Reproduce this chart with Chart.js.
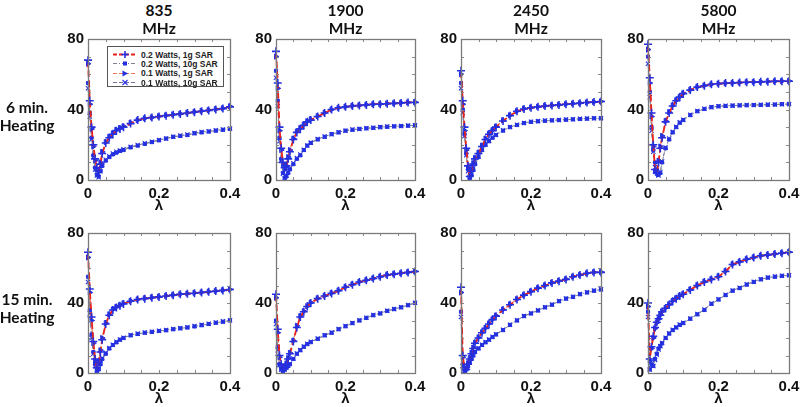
<!DOCTYPE html>
<html><head><meta charset="utf-8">
<script src="https://cdn.jsdelivr.net/npm/chart.js@4.4.0/dist/chart.umd.min.js"></script>
<style>
html,body{margin:0;padding:0;background:#fff;width:800px;height:407px;overflow:hidden;position:relative}
canvas{position:absolute}
.t{position:absolute;width:120px;text-align:center;font-family:Lato,"Open Sans",sans-serif;font-weight:bold;font-size:15.5px;line-height:18px;color:#111;white-space:nowrap}
#legend{position:absolute;left:107px;top:46px;width:117px;height:41px;border:1px solid #555;background:#fff;z-index:5;box-sizing:border-box}
#legend .row{position:absolute;left:4px;height:9px;display:flex;align-items:center;font:bold 8.5px "Liberation Sans",Arial,sans-serif;color:#222;white-space:nowrap}
#legend svg{margin-right:3px}
</style></head><body>
<script>
// ---------- DATA ----------
const lambda = [0,0.005,0.01,0.015,0.02,0.025,0.03,0.035,0.04,0.05,0.06,0.07,0.08,0.09,0.1,0.12,0.14,0.16,0.18,0.2,0.22,0.24,0.26,0.28,0.3,0.32,0.34,0.36,0.38,0.4];
const xTicks = [0,0.2,0.4];
const yTicks = [0,40,80];
const freqLabels = ["835","1900","2450","5800"];
const rowLabels = ["6 min.","15 min."];
const seriesNames = ["0.2 Watts, 1g SAR","0.2 Watts, 10g SAR","0.1 Watts, 1g SAR","0.1 Watts, 10g SAR"];

// 6 min heating
const f835_6_w02_1g  = [68,45,30,20,12,7,5,9,15,21,24,26,28,29,30,32,34,35,35.5,36,36.5,37,37.5,38,38.5,39,39.5,40,40.5,41.5];
const f835_6_w02_10g = [55,38,24,14,7,3,2,5,8,11,13,14.5,15.5,16.5,17,18.5,19.5,20.5,21.5,22.5,23.5,24.5,25,25.5,26.5,27,27.5,28,28.5,29];
const f835_6_w01_1g  = [66,43,29,19,11,6,5,10,16,21.5,24.5,26.5,28.5,29.5,30.5,32.5,34,35,35.5,36.2,36.7,37.2,37.6,38.2,38.7,39.2,39.7,40.2,40.7,41.8];
const f835_6_w01_10g = [52,36,23,13,6,2.5,1.5,5,8.5,11.5,13.5,15,16,16.8,17.5,18.8,19.8,20.8,21.7,22.7,23.6,24.5,25.2,25.8,26.6,27.2,27.7,28.2,28.7,29.2];

const f1900_6_w02_1g  = [73,55,30,18,10,7,8,12,16,23,27,29,31,33,34,36,38,40,41,41.5,42,42.3,42.6,43,43,43.3,43.5,43.7,44,44];
const f1900_6_w02_10g = [62,45,24,12,4,1,2,4,6,9,12,14,17,19.5,21,23,24.5,26,27,28,28.5,29,29.3,29.6,30,30.2,30.4,30.6,30.8,31];
const f1900_6_w01_1g  = [70,52,28,17,9,6,8,13,17,23.5,27.5,29.5,31.5,33.3,34.5,36.3,38.2,40,41,41.6,42.1,42.4,42.7,43,43.1,43.4,43.6,43.8,44,44.2];
const f1900_6_w01_10g = [58,42,22,11,3.5,1,2.5,4.5,6.5,9.5,12.5,14.5,17.2,19.6,21.2,23.2,24.7,26,27.1,28,28.6,29,29.4,29.7,30,30.3,30.5,30.7,30.9,31.1];

const f2450_6_w02_1g  = [62,45,30,18,8,2,5,9,12,15,19,23,26,28,30,33.5,36.5,39,40.3,41,41.5,42,42.3,42.6,43,43.3,43.6,44,44.2,44.5];
const f2450_6_w02_10g = [55,40,26,15,6,1,3,6,9,13,17,20,22,24,25.5,28,30,31.2,32.3,33,33.3,33.6,33.8,34,34.2,34.4,34.6,34.8,35,35];
const f2450_6_w01_1g  = [60,43,28,17,7,2,5.5,9.5,12.5,15.5,19.5,23.5,26.3,28.3,30.3,33.8,36.7,39.1,40.5,41.1,41.6,42.1,42.4,42.7,43.1,43.4,43.7,44,44.3,44.6];
const f2450_6_w01_10g = [52,38,25,14,5,1.5,3.5,6.5,9.5,13.3,17.2,20.2,22.2,24.2,25.7,28.2,30.1,31.3,32.4,33,33.4,33.7,33.9,34.1,34.3,34.5,34.7,34.9,35,35.1];

const f5800_6_w02_1g  = [77,58,38,20,6,4,10,18,24,33,38,42,45,47,49,51,52.7,53.5,54.3,54.6,55,55,55.3,55.5,55.5,55.7,55.8,56,56,56];
const f5800_6_w02_10g = [70,50,30,17,10,6,3,4,10,18,23,27,30,32.5,34,36.8,39,40.3,41.3,41.8,42,42.2,42.3,42.4,42.5,42.6,42.7,42.8,43,43];
const f5800_6_w01_1g  = [74,55,36,19,5,4,11,19,25,33.5,38.5,42.3,45.2,47.2,49.2,51.2,52.8,53.6,54.3,54.7,55,55.1,55.3,55.5,55.6,55.7,55.9,56,56.1,56.2];
const f5800_6_w01_10g = [66,47,28,16,9,5,2.5,4.5,10.5,18.5,23.5,27.3,30.2,32.7,34.2,37,39.1,40.4,41.3,41.9,42.1,42.2,42.4,42.5,42.6,42.7,42.8,42.9,43,43.1];

// 15 min heating
const f835_15_w02_1g  = [69,48,32,18,8,3,6,12,19,28,33,36,37.5,38.5,39.5,41,42,42.5,43,43.5,44,44.5,45,45.3,45.6,46,46.4,46.8,47.2,47.7];
const f835_15_w02_10g = [55,36,22,12,5,1,2,5,8,11,14,16,17.5,19,20,21.5,22.3,23,23.5,24,24.4,25,25.5,26,26.6,27.3,28,28.7,29.3,30];
const f835_15_w01_1g  = [66,46,30,17,7,3,6.5,13,20,28.5,33.5,36.3,37.8,38.8,39.8,41.2,42.1,42.7,43.2,43.6,44.1,44.6,45.1,45.4,45.8,46.1,46.5,46.9,47.3,47.8];
const f835_15_w01_10g = [52,34,20,11,4,1.5,2.5,5.5,8.5,11.5,14.3,16.2,17.8,19.2,20.2,21.7,22.5,23.1,23.6,24.1,24.6,25.1,25.6,26.2,26.8,27.5,28.2,28.8,29.5,30.1];

const f1900_15_w02_1g  = [45,25,10,5,3,3,5,8,11,18,26,32,35,38,40,42.5,44,45.5,47,49,50.5,52,53,54,55,56,56.5,57,57.5,58];
const f1900_15_w02_10g = [30,15,5,2,1,2,3,4,5,8,11,13,15,16.5,17.6,19.5,21.5,23,25,26.7,28.5,30,31.5,33,34,35.5,36.5,37.5,38.7,40];
const f1900_15_w01_1g  = [43,23,9,4.5,3,3.5,5.5,8.5,11.5,18.5,27,32.5,35.3,38.2,40.2,42.7,44.2,45.7,47.2,49.2,50.7,52.1,53.1,54.1,55.1,56.1,56.6,57.1,57.6,58.1];
const f1900_15_w01_10g = [28,13,4.5,2,1,2,3.2,4.2,5.3,8.3,11.2,13.2,15.2,16.7,17.8,19.7,21.6,23.2,25.2,26.8,28.6,30.1,31.6,33.1,34.2,35.6,36.6,37.6,38.8,40.1];

const f2450_15_w02_1g  = [49,10,3,2,5,8,11,14,17,20,23,25.5,28,30.5,32.5,36,39,42,44.5,46.5,48.5,50,51.5,52.5,53.5,55,56,57,57.5,57.5];
const f2450_15_w02_10g = [35,5,1,2,4,6,8,10,12,14,16,17.5,19,20.5,22,24.5,27.5,30,32.5,34,35.7,37.5,39,41,42.5,43.5,45,46,47,47.7];
const f2450_15_w01_1g  = [46,9,3,2.5,5.5,8.5,11.5,14.5,17.3,20.3,23.2,25.8,28.3,30.7,32.8,36.2,39.2,42.2,44.6,46.7,48.6,50.1,51.6,52.7,53.7,55.1,56.1,57,57.6,57.7];
const f2450_15_w01_10g = [32,4,1,2.3,4.3,6.2,8.3,10.2,12.2,14.2,16.2,17.7,19.2,20.7,22.2,24.7,27.6,30.2,32.6,34.2,35.8,37.6,39.1,41.1,42.6,43.6,45.1,46.1,47.1,47.8];

const f5800_15_w02_1g  = [40,8,15,21,26,29,31,33,35,37,39,41,42.5,44,45,47.5,50,52,53.5,55,58,62,63.5,65,66,67,67.5,68,68.5,69];
const f5800_15_w02_10g = [35,2,5,4,8,11,14,15.5,17,20,22.5,24.5,26,27.5,28.5,31,33.5,36,39.5,42,44.5,47,48.5,50.5,52,53.5,54.5,55,55.5,55.8];
const f5800_15_w01_1g  = [38,7,14,20,25.5,28.7,30.8,33.2,35.2,37.2,39.2,41.2,42.7,44.2,45.2,47.7,50.2,52.2,53.7,55.3,58.3,62.2,63.7,65.1,66.1,67.1,67.6,68.1,68.6,69.1];
const f5800_15_w01_10g = [32,2,4.5,4,7.5,10.5,13.5,15.3,17.2,20.2,22.7,24.7,26.2,27.7,28.7,31.2,33.7,36.3,39.7,42.2,44.7,47.2,48.7,50.7,52.2,53.6,54.6,55.1,55.6,55.9];

// ---------- LAYOUT / STYLE ----------
const BLUE = '#2430e0';
const panels = [
  {L:88, T:38, R:230, B:180, s:[f835_6_w02_1g,f835_6_w02_10g,f835_6_w01_1g,f835_6_w01_10g]},
  {L:276,T:38, R:415, B:180, s:[f1900_6_w02_1g,f1900_6_w02_10g,f1900_6_w01_1g,f1900_6_w01_10g]},
  {L:461,T:38, R:601, B:180, s:[f2450_6_w02_1g,f2450_6_w02_10g,f2450_6_w01_1g,f2450_6_w01_10g]},
  {L:648,T:38, R:789, B:180, s:[f5800_6_w02_1g,f5800_6_w02_10g,f5800_6_w01_1g,f5800_6_w01_10g]},
  {L:88, T:232,R:230, B:373, s:[f835_15_w02_1g,f835_15_w02_10g,f835_15_w01_1g,f835_15_w01_10g]},
  {L:276,T:232,R:415, B:373, s:[f1900_15_w02_1g,f1900_15_w02_10g,f1900_15_w01_1g,f1900_15_w01_10g]},
  {L:461,T:232,R:601, B:373, s:[f2450_15_w02_1g,f2450_15_w02_10g,f2450_15_w01_1g,f2450_15_w01_10g]},
  {L:648,T:232,R:789, B:373, s:[f5800_15_w02_1g,f5800_15_w02_10g,f5800_15_w01_1g,f5800_15_w01_10g]}
];
const styles = [
  {borderColor:'#e8231c', borderDash:[7,3], borderWidth:1.8, pointStyle:'cross', pointRadius:4, pointBorderWidth:1.6},
  {borderColor:'#80809a', borderDash:[6,2,1,2], borderWidth:1, pointStyle:'rect', pointRadius:2.2, pointBorderWidth:1},
  {borderColor:'#f07a60', borderDash:[5,3], borderWidth:1.2, pointStyle:'triangle', rotation:90, pointRadius:3, pointBorderWidth:1},
  {borderColor:'#70709a', borderDash:[4,3], borderWidth:1, pointStyle:'crossRot', pointRadius:3, pointBorderWidth:1.1}
];

const PADT = 12, YW = 32, XH = 35, PADR = 16;

const boxPlugin = {
  id:'box',
  afterDatasetsDraw(chart){
    const {ctx, chartArea:a, scales:{x,y}} = chart;
    ctx.save();
    ctx.strokeStyle = '#8a8a8a';
    ctx.lineWidth = 1;
    ctx.beginPath();
    for (let v = 10; v < 80; v += 10) {
      const py = Math.round(y.getPixelForValue(v)) + 0.5;
      ctx.moveTo(a.left, py); ctx.lineTo(a.left + 3, py);
      ctx.moveTo(a.right, py); ctx.lineTo(a.right - 3, py);
    }
    for (let k = 1; k < 8; k++) {
      const px = Math.round(x.getPixelForValue(k * 0.05)) + 0.5;
      ctx.moveTo(px, a.top); ctx.lineTo(px, a.top + 3);
      ctx.moveTo(px, a.bottom); ctx.lineTo(px, a.bottom - 3);
    }
    ctx.stroke();
    ctx.strokeStyle = '#7a7a7a';
    ctx.lineWidth = 1.3;
    ctx.strokeRect(Math.round(a.left)+0.5, Math.round(a.top)+0.5, Math.round(a.right-a.left), Math.round(a.bottom-a.top));
    ctx.restore();
  }
};

const tickFont = {family:'"Liberation Sans", Arial, sans-serif', size:15, weight:'bold'};

panels.forEach((p, i) => {
  const c = document.createElement('canvas');
  const w = YW + (p.R - p.L) + PADR, h = PADT + (p.B - p.T) + XH;
  c.width = w; c.height = h;
  c.style.left = (p.L - YW) + 'px'; c.style.top = (p.T - PADT) + 'px';
  c.style.width = w + 'px'; c.style.height = h + 'px';
  document.body.appendChild(c);
  const datasets = p.s.map((arr, k) => Object.assign({
    label: seriesNames[k],
    data: lambda.map((lx, j) => ({x: lx, y: arr[j]})),
    fill:false, tension:0, clip:6,
    pointBorderColor: BLUE, pointBackgroundColor: BLUE
  }, styles[k]));
  new Chart(c, {
    type:'line',
    data:{datasets},
    options:{
      responsive:false, animation:false, devicePixelRatio:1,
      layout:{padding:{top:PADT, right:PADR, left:0, bottom:0}},
      plugins:{legend:{display:false}, tooltip:{enabled:false}},
      scales:{
        x:{type:'linear', min:0, max:0.4,
           afterBuildTicks(s){ s.ticks = xTicks.map(v => ({value:v})); },
           afterFit(s){ s.height = XH; },
           grid:{display:false, drawTicks:false}, border:{display:false},
           ticks:{font:tickFont, color:'#111', padding:5, maxRotation:0,
                  callback:v => String(v)},
           title:{display:true, text:'λ', font:{family:'"Liberation Sans", Arial, sans-serif', size:15, weight:'bold'}, color:'#111', padding:{top:-3, bottom:0}}},
        y:{type:'linear', min:0, max:80,
           afterBuildTicks(s){ s.ticks = yTicks.map(v => ({value:v})); },
           afterFit(s){ s.width = YW; },
           grid:{display:false, drawTicks:false}, border:{display:false},
           ticks:{font:tickFont, color:'#111', padding:4}}
      }
    },
    plugins:[boxPlugin]
  });
});

// titles
const centers = [0,1,2,3].map(i => (panels[i].L + panels[i].R) / 2);
function addText(txt, cx, cy){
  const d = document.createElement('div');
  d.className = 't'; d.textContent = txt;
  d.style.left = (cx - 60) + 'px'; d.style.top = (cy - 9) + 'px';
  document.body.appendChild(d);
}
freqLabels.forEach((f, i) => { addText(f, centers[i], 10); addText('MHz', centers[i], 28); });
addText(rowLabels[0], 27, 107); addText('Heating', 27, 125);
addText(rowLabels[1], 27, 299); addText('Heating', 27, 317);

// legend
const lg = document.createElement('div'); lg.id = 'legend';
const sampleSvgs = [
  '<svg width="26" height="9"><line x1="1" y1="4.5" x2="25" y2="4.5" stroke="#e8231c" stroke-width="1.8" stroke-dasharray="4,2"/><line x1="13" y1="1" x2="13" y2="8" stroke="'+BLUE+'" stroke-width="1.6"/><line x1="9.5" y1="4.5" x2="16.5" y2="4.5" stroke="'+BLUE+'" stroke-width="1.6"/></svg>',
  '<svg width="26" height="9"><line x1="1" y1="4.5" x2="25" y2="4.5" stroke="#80809a" stroke-width="1" stroke-dasharray="4,2,1,2"/><rect x="11" y="2.5" width="4" height="4" fill="'+BLUE+'"/></svg>',
  '<svg width="26" height="9"><line x1="1" y1="4.5" x2="25" y2="4.5" stroke="#f07a60" stroke-width="1.2" stroke-dasharray="4,2"/><polygon points="10.5,1.5 16,4.5 10.5,7.5" fill="'+BLUE+'"/></svg>',
  '<svg width="26" height="9"><line x1="1" y1="4.5" x2="25" y2="4.5" stroke="#70709a" stroke-width="1" stroke-dasharray="4,2"/><line x1="10.5" y1="2" x2="15.5" y2="7" stroke="'+BLUE+'" stroke-width="1.1"/><line x1="15.5" y1="2" x2="10.5" y2="7" stroke="'+BLUE+'" stroke-width="1.1"/></svg>'
];
seriesNames.forEach((n, k) => {
  const r = document.createElement('div'); r.className = 'row';
  r.style.top = (3 + k * 9.4) + 'px';
  r.innerHTML = sampleSvgs[k] + '<span>' + n + '</span>';
  lg.appendChild(r);
});
document.body.appendChild(lg);
</script>
</body></html>
